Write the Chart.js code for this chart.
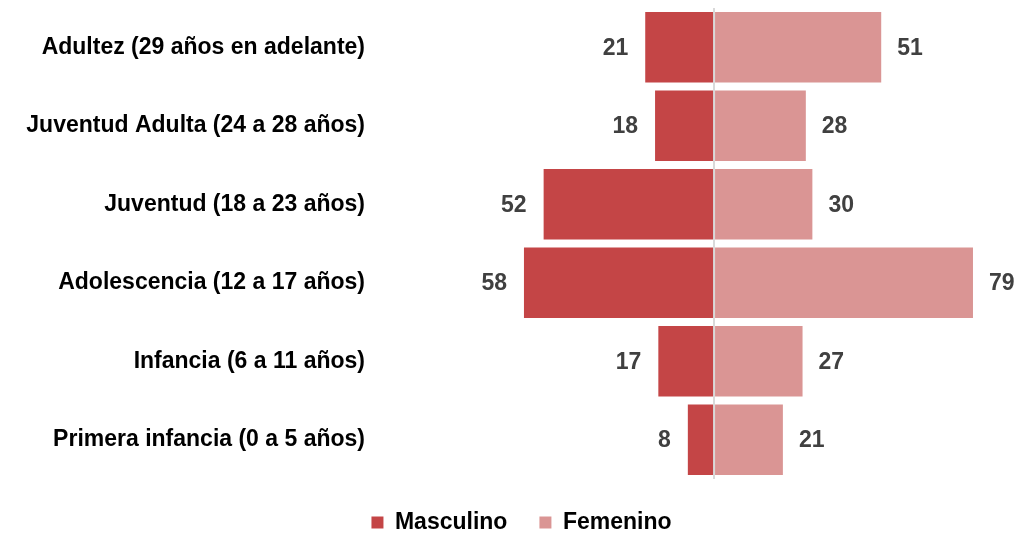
<!DOCTYPE html>
<html>
<head>
<meta charset="utf-8">
<script src="https://cdn.jsdelivr.net/npm/chart.js@4/dist/chart.umd.min.js"></script>
<style>
  html, body { margin: 0; padding: 0; background: #ffffff; }
  #wrap { width: 1021px; height: 533px; }
</style>
</head>
<body>
<div id="wrap"><canvas id="chart"></canvas></div>
<script>
var categories = [
	'Adultez (29 años en adelante)',
	'Juventud Adulta (24 a 28 años)',
	'Juventud (18 a 23 años)',
	'Adolescencia (12 a 17 años)',
	'Infancia (6 a 11 años)',
	'Primera infancia (0 a 5 años)'
];
var masculino = [21, 18, 52, 58, 17, 8];
var femenino = [51, 28, 30, 79, 27, 21];

var fontFamily = '"Liberation Sans", Arial, sans-serif';

// values printed beside the bar ends
var barLabels = {
	id: 'barLabels',
	afterLayout: function (chart) {
		// legend sits a little right of the canvas centre
		chart.legend.left += 16;
		chart.legend.right += 16;
	},
	afterDatasetsDraw: function (chart) {
		var ctx = chart.ctx;
		ctx.save();
		ctx.font = 'bold 23px ' + fontFamily;
		ctx.fillStyle = '#404040';
		ctx.textBaseline = 'middle';
		chart.data.datasets.forEach(function (ds, i) {
			var meta = chart.getDatasetMeta(i);
			meta.data.forEach(function (bar, j) {
				var v = Math.abs(ds.data[j]);
				if (ds.data[j] < 0) {
					ctx.textAlign = 'right';
					ctx.fillText(v, bar.x - 17, bar.y + 1);
				} else {
					ctx.textAlign = 'left';
					ctx.fillText(v, bar.x + 16, bar.y + 1);
				}
			});
		});
		ctx.restore();
	}
};

var chart = document.getElementById('chart').getContext('2d');

var data = {
	labels: categories,
	datasets: [{
		label: 'Masculino',
		backgroundColor: '#C44546',
		borderWidth: 0,
		data: masculino.map(function (v) { return -v; })
	}, {
		label: 'Femenino',
		backgroundColor: '#DA9594',
		borderWidth: 0,
		data: femenino
	}]
};

var options = {
	indexAxis: 'y',
	responsive: true,
	maintainAspectRatio: false,
	animation: false,
	categoryPercentage: 0.9,
	barPercentage: 1,
	layout: {
		padding: { top: 8, right: 10, bottom: -11, left: 0 }
	},
	scales: {
		x: {
			stacked: true,
			min: -106.5,
			max: 90.6,
			border: { display: false },
			ticks: { display: false, stepSize: 10 },
			grid: {
				drawTicks: false,
				lineWidth: 2,
				color: function (c) { return c.tick && c.tick.value === 0 ? '#D9D9D9' : 'rgba(0,0,0,0)'; }
			}
		},
		y: {
			stacked: true,
			border: { display: false },
			grid: { display: false, drawTicks: false },
			ticks: {
				padding: 0,
				color: '#000000',
				font: { family: fontFamily, size: 23, weight: 'bold' }
			},
			afterFit: function (scale) {
				scale.width = 365;
				scale.paddingTop = 0;
				scale.paddingBottom = 0;
			}
		}
	},
	plugins: {
		tooltip: { enabled: false },
		legend: {
			position: 'bottom',
			labels: {
				boxWidth: 12,
				boxHeight: 12,
				padding: 32,
				color: '#000000',
				font: { family: fontFamily, size: 23, weight: 'bold' }
			}
		}
	}
};

var chartInstance = new Chart(chart, {
	type: 'bar',
	data: data,
	options: options,
	plugins: [barLabels]
});
</script>
</body>
</html>
